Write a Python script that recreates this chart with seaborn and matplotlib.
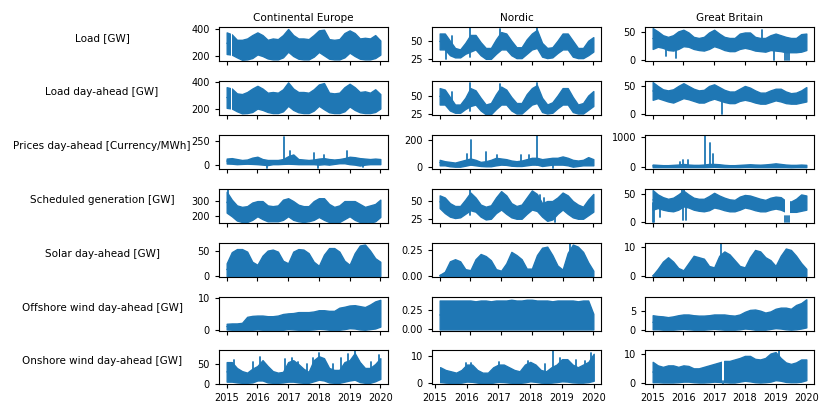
import numpy as np
import pandas as pd
import matplotlib
matplotlib.use("Agg")
import matplotlib.pyplot as plt
import seaborn as sns

sns.set_theme(style="ticks", rc={
    "font.size": 7.5, "axes.titlesize": 7.5, "xtick.labelsize": 7, "ytick.labelsize": 7,
    "axes.linewidth": 0.8, "axes.edgecolor": "black", "text.color": "black",
    "xtick.color": "black", "ytick.color": "black",
    "xtick.major.size": 3, "ytick.major.size": 3,
    "xtick.major.width": 0.8, "ytick.major.width": 0.8,
    "xtick.major.pad": 3.2, "ytick.major.pad": 3.5,
})
plt.rcParams["font.family"] = ["DejaVu Sans"]

# two-monthly envelope of the hourly series (high / low), Jan 2015 to Jan 2020
grid = 2015 + np.arange(31) / 6
year_ticks = [2015, 2016, 2017, 2018, 2019, 2020]
columns = ["Continental Europe", "Nordic", "Great Britain"]
rows = ["Load [GW]", "Load day-ahead [GW]", "Prices day-ahead [Currency/MWh]",
        "Scheduled generation [GW]", "Solar day-ahead [GW]",
        "Offshore wind day-ahead [GW]", "Onshore wind day-ahead [GW]"]

# Continental Europe
ce_load_hi = [375, 360, 320, 320, 330, 355, 375, 355, 320, 330, 325, 355, 400, 355, 330, 330, 325, 355, 390, 395, 325, 320, 325, 370, 390, 370, 330, 335, 330, 355, 315]
ce_load_lo = [215, 210, 190, 172, 175, 185, 212, 200, 182, 175, 175, 190, 232, 200, 180, 175, 175, 195, 230, 205, 180, 175, 175, 190, 225, 200, 180, 175, 175, 185, 210]
ce_da_hi = [360, 350, 315, 310, 325, 350, 370, 350, 320, 325, 320, 345, 395, 350, 325, 325, 320, 345, 380, 390, 320, 315, 320, 360, 385, 360, 325, 330, 320, 345, 310]
ce_da_lo = [210, 205, 185, 170, 172, 180, 205, 195, 180, 172, 172, 185, 225, 195, 178, 172, 172, 190, 225, 200, 178, 172, 172, 185, 220, 195, 178, 172, 172, 180, 205]
ce_price_hi = [65, 70, 60, 50, 55, 75, 85, 60, 50, 50, 50, 60, 90, 110, 60, 55, 50, 55, 65, 70, 60, 55, 60, 70, 85, 80, 70, 65, 60, 65, 60]
ce_price_lo = [12, 10, 5, 8, 10, 8, 5, 0, -5, 5, 5, 8, 10, 8, 5, 5, 5, 5, 0, 5, 0, 8, 15, 15, 5, 0, -10, 0, 5, 5, 5]
ce_gen_hi = [365, 310, 270, 260, 265, 290, 300, 300, 270, 265, 270, 310, 320, 300, 275, 265, 265, 300, 320, 320, 280, 260, 270, 300, 300, 300, 280, 260, 270, 280, 310]
ce_gen_lo = [220, 195, 165, 155, 155, 170, 195, 175, 160, 160, 160, 170, 195, 170, 160, 155, 160, 170, 190, 170, 155, 155, 155, 175, 195, 170, 155, 155, 150, 160, 190]
ce_solar_hi = [25, 47, 53, 53, 48, 28, 22, 40, 50, 52, 48, 30, 25, 48, 53, 52, 45, 28, 20, 42, 55, 55, 48, 30, 22, 45, 60, 62, 50, 35, 28]
ce_solar_lo = [0] * 31
ce_off_hi = [1.9, 2, 2, 2.2, 4.1, 4.4, 4.5, 4.5, 4.3, 4.3, 4.5, 5, 5.2, 5.3, 5.6, 5.6, 5.6, 5.8, 6.2, 6.2, 6, 6, 7, 7.3, 7.7, 7.8, 7.5, 7.2, 8, 9, 9.5]
ce_off_lo = [0.1, 0, 0, 0, 0, 0, 0.1, 0, 0, 0, 0, 0, 0.2, 0.1, 0, 0, 0, 0.1, 0.3, 0.2, 0, 0, 0, 0.2, 0.5, 0.4, 0.1, 0, 0.2, 0.4, 1]
ce_on_hi = [55, 55, 40, 32, 28, 38, 45, 60, 45, 32, 28, 30, 55, 60, 50, 38, 30, 60, 70, 65, 40, 35, 35, 55, 60, 78, 55, 40, 40, 50, 65]
ce_on_lo = [5, 5, 3, 2, 2, 3, 8, 8, 3, 2, 2, 3, 5, 5, 3, 2, 2, 6, 10, 8, 3, 2, 2, 5, 8, 10, 4, 2, 2, 6, 12]

# Nordic
no_load_hi = [60, 60, 50, 40, 38, 47, 58, 58, 48, 40, 40, 52, 62, 60, 50, 41, 41, 52, 60, 65, 47, 40, 41, 50, 60, 60, 50, 40, 40, 50, 55]
no_load_lo = [38, 38, 30, 27, 27, 32, 35, 38, 30, 25, 25, 32, 38, 38, 30, 26, 26, 32, 38, 40, 28, 26, 27, 33, 38, 38, 28, 26, 26, 30, 35]
no_da_hi = [60, 58, 48, 38, 38, 47, 60, 57, 47, 38, 40, 52, 62, 58, 48, 40, 40, 52, 60, 64, 47, 38, 41, 50, 60, 60, 48, 38, 40, 50, 56]
no_da_lo = [38, 38, 30, 27, 27, 32, 36, 38, 30, 25, 25, 32, 38, 38, 30, 26, 26, 32, 38, 40, 28, 26, 27, 33, 38, 38, 28, 26, 26, 31, 36]
no_price_hi = [55, 45, 40, 35, 45, 55, 65, 55, 40, 45, 55, 70, 65, 60, 50, 45, 50, 60, 70, 70, 60, 65, 70, 70, 80, 70, 55, 50, 55, 75, 60]
no_price_lo = [15, 15, 8, 5, 5, 12, 20, 15, 10, 8, 8, 15, 20, 18, 12, 10, 10, 15, 20, 20, 10, 15, 20, 20, 20, 15, 5, 10, 15, 15, 15]
no_gen_hi = [58, 55, 47, 43, 43, 52, 62, 55, 45, 42, 44, 55, 64, 58, 47, 43, 45, 55, 65, 60, 47, 50, 50, 55, 62, 58, 50, 45, 42, 52, 60]
no_gen_lo = [40, 33, 28, 26, 27, 32, 37, 35, 28, 24, 25, 33, 38, 32, 27, 25, 25, 32, 38, 36, 28, 22, 24, 32, 38, 32, 27, 25, 25, 30, 35]
no_solar_hi = [0.01, 0.04, 0.14, 0.16, 0.14, 0.065, 0.055, 0.16, 0.21, 0.19, 0.15, 0.065, 0.05, 0.12, 0.23, 0.2, 0.16, 0.07, 0.07, 0.2, 0.27, 0.28, 0.2, 0.1, 0.06, 0.22, 0.3, 0.28, 0.23, 0.13, 0.05]
no_solar_lo = [0] * 31
no_off_hi = [0.37, 0.37, 0.37, 0.37, 0.37, 0.37, 0.37, 0.36, 0.37, 0.37, 0.36, 0.37, 0.37, 0.37, 0.38, 0.37, 0.37, 0.38, 0.38, 0.37, 0.37, 0.37, 0.36, 0.37, 0.37, 0.37, 0.37, 0.36, 0.37, 0.37, 0.2]
no_off_lo = [0] * 31
no_on_hi = [6, 6, 5, 4.5, 4, 5, 7, 7, 5, 4, 4, 6, 7, 7, 6, 5, 4.5, 7, 8, 7, 5, 4.5, 6, 7, 9, 9, 7, 6, 7, 8, 11]
no_on_lo = [0.5, 0.5, 0.3, 0.2, 0.2, 0.3, 0.7, 0.6, 0.3, 0.1, 0.1, 0.3, 0.6, 0.5, 0.3, 0.2, 0.2, 0.4, 0.8, 0.6, 0.3, 0.2, 0.3, 0.5, 0.8, 0.7, 0.4, 0.3, 0.3, 0.5, 1]

# Great Britain
gb_load_hi = [58, 52, 45, 42, 45, 52, 55, 50, 42, 40, 42, 50, 55, 48, 42, 40, 40, 48, 50, 50, 42, 40, 40, 45, 48, 45, 42, 40, 40, 47, 48]
gb_load_lo = [20, 24, 22, 18, 17, 20, 25, 24, 20, 18, 17, 20, 25, 22, 18, 16, 16, 20, 22, 20, 17, 16, 15, 18, 17, 16, 14, 14, 14, 15, 18]
gb_da_hi = [57, 50, 44, 42, 44, 50, 55, 50, 45, 42, 43, 50, 53, 48, 43, 40, 40, 45, 50, 47, 42, 38, 38, 42, 45, 45, 40, 37, 38, 42, 48]
gb_da_lo = [25, 28, 25, 22, 20, 24, 28, 26, 23, 20, 20, 24, 27, 24, 21, 19, 19, 23, 25, 23, 20, 18, 18, 21, 24, 22, 19, 18, 18, 20, 22]
gb_price_hi = [90, 80, 70, 70, 80, 90, 110, 90, 80, 80, 90, 110, 110, 100, 80, 70, 70, 80, 90, 100, 90, 85, 95, 110, 130, 110, 90, 80, 80, 90, 80]
gb_price_lo = [5, 5, 5, 5, 5, 5, 5, 5, 5, 5, 5, 10, 15, 10, 5, 5, 5, 5, 10, 10, 5, 5, 5, 5, 5, 5, 5, 0, 5, 5, 5]
gb_gen_hi = [58, 50, 45, 42, 44, 50, 57, 50, 44, 42, 42, 47, 53, 48, 44, 41, 40, 46, 49, 48, 45, 42, 40, 44, 46, 45, 38, 37, 42, 50, 48]
gb_gen_lo = [22, 25, 22, 20, 19, 22, 28, 26, 22, 20, 19, 21, 26, 24, 21, 19, 19, 22, 26, 24, 21, 19, 19, 22, 24, 22, 18, 18, 18, 20, 22]
gb_solar_hi = [0.3, 2.5, 5, 6.5, 5, 2.8, 2, 4.5, 7, 6.5, 6, 3.5, 3, 7, 8.5, 7.5, 5.5, 3.5, 3, 6.5, 9, 8.5, 6.5, 5.5, 3.5, 7, 9.5, 9, 7, 4.5, 2.5]
gb_solar_lo = [0] * 31
gb_off_hi = [3.8, 3.6, 3.5, 3.3, 3.5, 3.8, 4, 4, 3.8, 3.7, 3.7, 3.8, 4, 4, 4, 3.8, 3.7, 4, 4.7, 5.2, 5.3, 5, 4.5, 4.8, 5.5, 5.8, 5.8, 5.5, 6.5, 7, 8]
gb_off_lo = [0.1, 0.1, 0, 0, 0, 0.1, 0.2, 0.1, 0, 0, 0, 0.1, 0.2, 0.1, 0, 0, 0, 0.1, 0.3, 0.2, 0, 0, 0, 0.2, 0.4, 0.3, 0.1, 0, 0.1, 0.3, 0.6]
gb_on_hi = [7.2, 6, 5.5, 6, 6, 5.5, 6, 5.8, 5, 5, 5.5, 6, 6.5, 7, 7.5, 7.5, 8, 8.5, 9.2, 9.2, 8.2, 8, 8.5, 10, 10.5, 8.5, 7, 6.5, 7, 8, 8]
gb_on_lo = [0.3, 0.3, 0.2, 0.2, 0.2, 0.3, 0.5, 0.5, 0.3, 0.2, 0.2, 0.3, 0.5, 0.4, 0.3, 0.2, 0.2, 0.5, 0.8, 0.6, 0.3, 0.2, 0.3, 0.5, 1, 0.8, 0.4, 0.3, 0.3, 0.5, 1]

# spikes as (year, low, high), gaps as (from, to)
ce_load_gaps = [(2015.13, 2015.16)]
ce_price_spikes = [(2016.86, 50, 300), (2017.06, 40, 150), (2017.84, 40, 130), (2018.16, 40, 100), (2018.9, 40, 145), (2016.3, -35, 10), (2019.44, -30, 10), (2017.98, -35, 10)]
ce_gen_spikes = [(2015.05, 250, 385)]
ce_on_spikes = [(2015.24, 10, 60), (2015.87, 10, 55), (2016.1, 10, 68), (2016.9, 8, 62), (2017.14, 8, 65), (2017.33, 8, 55), (2017.6, 5, 50), (2017.82, 8, 65), (2018.0, 12, 78), (2018.46, 5, 50), (2018.73, 8, 65), (2018.95, 10, 75), (2019.17, 12, 84), (2019.38, 6, 50), (2019.7, 6, 55), (2019.95, 12, 73)]
no_load_spikes = [(2015.2, 25, 45), (2015.39, 35, 56), (2016.0, 28, 68), (2016.97, 40, 66), (2018.17, 40, 68)]
no_da_spikes = [(2015.39, 35, 55), (2016.0, 30, 67), (2016.97, 40, 65), (2018.17, 40, 67)]
no_price_spikes = [(2015.88, 20, 100), (2016.03, 20, 200), (2016.5, 20, 115), (2016.85, 20, 90), (2017.65, 20, 90), (2017.9, 20, 90), (2018.16, 20, 235), (2018.7, -5, 20)]
no_gen_spikes = [(2016.0, 30, 66), (2018.25, 40, 58), (2018.38, 40, 55), (2018.75, 20, 40)]
no_solar_spikes = [(2019.25, 0, 0.32)]
no_on_gaps = [(2014.8, 2015.16)]
no_on_spikes = [(2015.98, 1, 7.4), (2016.14, 1, 7.4), (2017.03, 1, 7.8), (2017.93, 1, 8.5), (2018.45, 1, 7.2), (2018.72, 2, 12.4), (2018.93, 1, 9.4), (2019.45, 1, 8.7), (2019.72, 1, 8.5), (2019.93, 2, 11.3)]
gb_load_spikes = [(2015.43, 8, 30), (2015.75, 4, 25), (2018.55, 30, 55), (2018.96, 0, 25), (2019.3, 0, 25), (2019.38, 0, 25), (2019.45, 0, 25)]
gb_da_spikes = [(2017.27, 0, 30)]
gb_price_spikes = [(2016.0, 0, 250), (2016.15, 0, 230), (2016.7, 0, 1050), (2016.86, 0, 800), (2016.95, 0, 450), (2015.88, 0, 170)]
gb_gen_gaps = [(2019.3, 2019.48)]
gb_gen_spikes = [(2015.0, 0, 35), (2015.05, 0, 35), (2015.23, 8, 30), (2016.0, 3, 30), (2016.1, 3, 30), (2015.95, 30, 60), (2016.03, 30, 60), (2019.32, 0, 10), (2019.38, 0, 10), (2019.44, 0, 10)]
gb_solar_spikes = [(2017.22, 0, 11.4)]
gb_on_gaps = [(2017.27, 2017.32)]
gb_on_spikes = [(2017.29, -0.3, 0.8), (2019.12, 2, 11.2)]

# one entry per panel, row by row
panels = [
    (ce_load_hi, ce_load_lo, [], ce_load_gaps, (163, 415), [200, 400]),
    (no_load_hi, no_load_lo, no_load_spikes, [], (22, 69), [25, 50]),
    (gb_load_hi, gb_load_lo, gb_load_spikes, [], (-2, 60), [0, 50]),
    (ce_da_hi, ce_da_lo, [], ce_load_gaps, (158, 405), [200, 400]),
    (no_da_hi, no_da_lo, no_da_spikes, [], (24, 69.5), [25, 50]),
    (gb_da_hi, gb_da_lo, gb_da_spikes, [], (-2.5, 59), [0, 50]),
    (ce_price_hi, ce_price_lo, ce_price_spikes, [], (-47, 319), [0, 250]),
    (no_price_hi, no_price_lo, no_price_spikes, [], (-12, 237), [0, 200]),
    (gb_price_hi, gb_price_lo, gb_price_spikes, [], (-55, 1055), [0, 1000]),
    (ce_gen_hi, ce_gen_lo, ce_gen_spikes, [], (148, 384), [200, 300]),
    (no_gen_hi, no_gen_lo, no_gen_spikes, [], (19, 67), [25, 50]),
    (gb_gen_hi, gb_gen_lo, gb_gen_spikes, gb_gen_gaps, (-2.5, 60), [0, 50]),
    (ce_solar_hi, ce_solar_lo, [], [], (-2, 65), [0, 50]),
    (no_solar_hi, no_solar_lo, no_solar_spikes, [], (-0.01, 0.315), [0, 0.25]),
    (gb_solar_hi, gb_solar_lo, gb_solar_spikes, [], (-0.3, 11.4), [0, 10]),
    (ce_off_hi, ce_off_lo, [], [], (-0.4, 10.4), [0, 10]),
    (no_off_hi, no_off_lo, [], [], (-0.02, 0.415), [0, 0.25]),
    (gb_off_hi, gb_off_lo, [], [], (-0.35, 8.6), [0, 5]),
    (ce_on_hi, ce_on_lo, ce_on_spikes, [], (-1, 86), [0, 50]),
    (no_on_hi, no_on_lo, no_on_spikes, no_on_gaps, (-0.2, 12.4), [0, 10]),
    (gb_on_hi, gb_on_lo, gb_on_spikes, gb_on_gaps, (-0.3, 11.2), [0, 10]),
]

col_left = [219, 432, 645]
row_top = [27, 81, 135, 189, 243, 297, 350]
W, H = 830, 415
blue = "#1f77b4"
fmt = {(0, 0.25): ["0.00", "0.25"]}

fig = plt.figure(figsize=(8.3, 4.15), dpi=100)
for i, (hi, lo, spikes, gaps, ylim, yticks) in enumerate(panels):
    r, c = divmod(i, 3)
    ax = fig.add_axes([col_left[c] / W, 1 - (row_top[r] + 34) / H, 169 / W, 34 / H])
    df = pd.DataFrame({"year": list(grid) * 2, "value": hi + lo})
    sns.lineplot(data=df, x="year", y="value", ax=ax, color=blue, linewidth=0.8,
                 estimator="mean", errorbar=lambda v: (v.min(), v.max()),
                 err_kws={"alpha": 1, "linewidth": 1.0, "edgecolor": blue})
    for g0, g1 in gaps:
        ax.axvspan(g0, g1, color="white", lw=0, zorder=2.3)
    for x, y0, y1 in spikes:
        sns.lineplot(x=[x, x], y=[y0, y1], ax=ax, color=blue, linewidth=1.3,
                     errorbar=None, estimator=None, zorder=2.4)
    # the Nordic onshore series starts later, so that axis has its own range
    ax.set_xlim((2014.905, 2020.23) if i == 19 else (2014.75, 2020.25))
    ax.set_ylim(*ylim)
    ax.set_xticks(year_ticks)
    ax.set_yticks(yticks)
    ax.set_yticklabels(fmt.get(tuple(yticks), [str(t) for t in yticks]))
    ax.set_xticklabels(year_ticks if r == 6 else [])
    ax.set_xlabel("")
    ax.set_ylabel("")
    if r == 0:
        ax.set_title(columns[c], pad=4.5)
    if c == 0:
        ax.text(-0.692, 0.68, rows[r], transform=ax.transAxes, ha="center", va="center")

fig.savefig("out.png", dpi=100)
